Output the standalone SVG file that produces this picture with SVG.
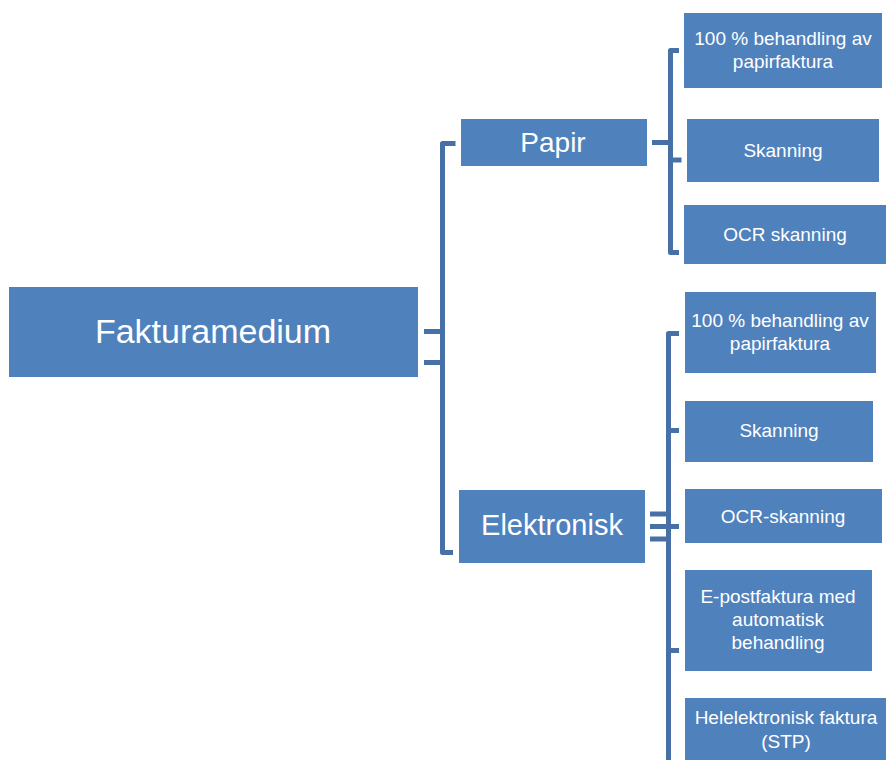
<svg xmlns="http://www.w3.org/2000/svg" width="886" height="760" viewBox="0 0 886 760">
<style>
.box{fill:#4f81bd}
.t{fill:#ffffff;font-family:"Liberation Sans","Open Sans",sans-serif;text-anchor:middle}
.s{font-size:19px}
.ln{fill:none;stroke:#4670a6;stroke-width:5;stroke-linecap:butt;stroke-linejoin:round}
</style>
<rect width="886" height="760" fill="#ffffff"/>
<g id="connectors">
<path class="ln" d="M455.5,143.5 H442.5 V552.5 H453"/>
<path class="ln" d="M424,331.5 H442.5 M424,362.5 H442.5"/>
<path class="ln" d="M679,50.5 H670.5 V252.5 H679"/>
<path class="ln" d="M652,142.5 H670.5 M670.5,160 H681.5"/>
<path class="ln" d="M679,333.5 H668.5 V760"/>
<path class="ln" d="M668.5,430.5 H679 M650,514 H668.5 M650,526.5 H679 M650,539 H668.5 M668.5,650.5 H679"/>
</g>
<g id="fakturamedium"><rect class="box" x="9" y="287" width="409" height="90"/><text class="t" x="213" y="343" font-size="34">Fakturamedium</text></g>
<g id="papir"><rect class="box" x="461" y="119" width="186" height="47"/><text class="t" x="553" y="152" font-size="28">Papir</text></g>
<g id="elektronisk"><rect class="box" x="459" y="490" width="186" height="73"/><text class="t" x="552" y="535" font-size="29">Elektronisk</text></g>
<g id="p1"><rect class="box" x="684" y="13" width="198" height="75"/><text class="t s" x="783" y="45">100 % behandling av</text><text class="t s" x="783" y="68">papirfaktura</text></g>
<g id="p2"><rect class="box" x="687" y="119" width="192" height="63"/><text class="t s" x="783" y="157">Skanning</text></g>
<g id="p3"><rect class="box" x="684" y="205" width="202" height="59"/><text class="t s" x="785" y="241">OCR skanning</text></g>
<g id="e1"><rect class="box" x="685" y="292" width="191" height="81"/><text class="t s" x="780" y="327">100 % behandling av</text><text class="t s" x="780" y="350">papirfaktura</text></g>
<g id="e2"><rect class="box" x="685" y="401" width="188" height="61"/><text class="t s" x="779" y="437">Skanning</text></g>
<g id="e3"><rect class="box" x="685" y="489" width="197" height="54"/><text class="t s" x="783" y="523">OCR-skanning</text></g>
<g id="e4"><rect class="box" x="685" y="570" width="187" height="101"/><text class="t s" x="778" y="603">E-postfaktura med</text><text class="t s" x="778" y="626">automatisk</text><text class="t s" x="778" y="649">behandling</text></g>
<g id="e5"><rect class="box" x="685" y="698" width="202" height="62"/><text class="t s" x="786" y="724">Helelektronisk faktura</text><text class="t s" x="786" y="748">(STP)</text></g>
</svg>
